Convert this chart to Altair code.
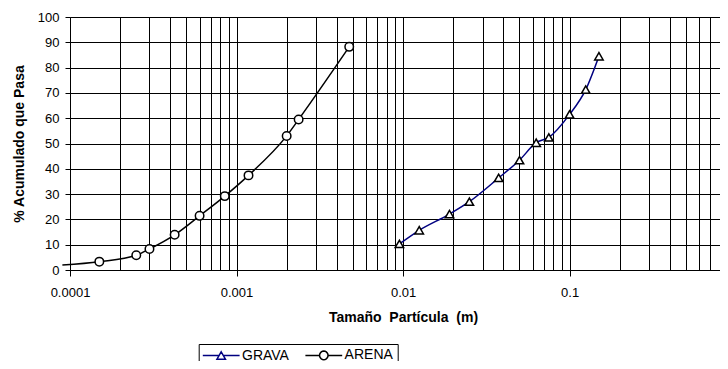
import math
import altair as alt
import pandas as pd

# ---- data ----
grava_size = [0.0095, 0.0125, 0.019, 0.025, 0.0375, 0.05, 0.063, 0.075, 0.1, 0.125, 0.15]
grava_pct = [10.3, 15.7, 22.1, 27.0, 36.4, 43.4, 50.3, 52.4, 61.5, 71.3, 84.5]

arena_size = [0.00009, 0.00015, 0.00025, 0.0003, 0.000425, 0.0006, 0.00085, 0.00118, 0.002, 0.00236, 0.00475]
arena_pct = [2.0, 3.3, 5.8, 8.3, 13.9, 21.4, 29.2, 37.4, 53.0, 59.5, 88.2]
arena_marker = [False, True, True, True, True, True, True, True, True, True, True]

series_names = ["GRAVA", "ARENA"]
series_colors = ["#000080", "#000000"]

x_grid_values = [round(m * 10.0 ** e, 10) for e in range(-4, 0) for m in range(1, 10)]
x_grid_values = [v for v in x_grid_values if v <= 0.8]
y_tick_values = list(range(0, 101, 10))

x_title = "Tamaño\u00a0 Partícula\u00a0 (m)"
y_title = "% Acumulado que Pasa"

rows = []
for s, p in zip(grava_size, grava_pct):
    rows.append({"size": s, "pct": p, "serie": "GRAVA", "marker": True})
for s, p, m in zip(arena_size, arena_pct, arena_marker):
    rows.append({"size": s, "pct": p, "serie": "ARENA", "marker": m})
df = pd.DataFrame(rows)

FONT = "Liberation Sans"
decade_test = "abs(log(datum.value)/LN10 - round(log(datum.value)/LN10)) < 0.001"

# legend symbols: line stub with a marker in the middle (unit coordinates)
tri_sym = "M-3.68,0L-0.43,0M0.43,0L3.68,0M0,-0.74L0.85,0.74L-0.85,0.74Z"
circ_pts = [(0.85 * math.cos(2 * math.pi * k / 20), 0.85 * math.sin(2 * math.pi * k / 20)) for k in range(20)]
circ_sym = ("M-3.68,0L-0.85,0M0.85,0L3.68,0M"
            + "L".join(f"{x:.3f},{y:.3f}" for x, y in circ_pts) + "Z")
legend_shapes = [tri_sym, circ_sym]

x_enc = alt.X(
    "size:Q",
    scale=alt.Scale(type="log", domain=[0.0001, 0.8]),
    axis=alt.Axis(
        values=x_grid_values,
        grid=True, gridColor="black", gridWidth=1,
        domainColor="black", domainWidth=1,
        tickColor="black", tickSize=6, tickWidth=1,
        tickOpacity={"condition": {"test": decade_test, "value": 1}, "value": 0},
        format="~g",
        labelExpr=f"({decade_test}) ? datum.label : ''",
        labelFont=FONT, labelFontSize=13, labelColor="black",
        labelPadding=10, labelOverlap=False, labelFlush=False,
        title=x_title, titleFont=FONT, titleFontSize=14, titleFontWeight="bold",
        titleColor="black", titleX=333, titleY=47, titleAlign="center",
        titleBaseline="middle",
    ),
)
y_enc = alt.Y(
    "pct:Q",
    scale=alt.Scale(domain=[0, 100]),
    axis=alt.Axis(
        values=y_tick_values,
        grid=True, gridColor="black", gridWidth=1,
        domainColor="black", domainWidth=1,
        tickColor="black", tickSize=5, tickWidth=1,
        labelFont=FONT, labelFontSize=13, labelColor="black", labelPadding=6,
        labelOverlap=False,
        title=y_title, titleFont=FONT, titleFontSize=14, titleFontWeight="bold",
        titleColor="black", titleX=-51, titleY=126.5, titleAngle=270,
        titleAlign="center", titleBaseline="middle",
    ),
)

# legend geometry (one merged legend for colour + shape)
LEG_X = 128.7
LEG_Y = 327
B = 15.5
SYM_C = 19.25
LAB_X = 40.8
leg_props = dict(
    orient="none", legendX=LEG_X, legendY=LEG_Y, direction="horizontal", title=None,
    symbolSize=100, symbolStrokeWidth=1.5,
    symbolOffset=SYM_C - 0.5 * B, labelOffset=LAB_X - B - (SYM_C - 0.5 * B),
    columnPadding=12.6, padding=4,
    labelFont=FONT, labelFontSize=14, labelColor="black",
    strokeColor="black",
)

base = alt.Chart(df)

lines = base.mark_line(strokeWidth=1.5, interpolate="monotone", clip=False).encode(
    x=x_enc,
    y=y_enc,
    color=alt.Color(
        "serie:N",
        scale=alt.Scale(domain=series_names, range=series_colors),
        legend=alt.Legend(**leg_props),
    ),
)

grava_pts = base.transform_filter("datum.serie == 'GRAVA'").mark_point(
    shape="triangle-up", filled=True, fill="white", stroke="black",
    strokeWidth=1.5, size=72, opacity=1
).encode(x=x_enc, y=y_enc)

arena_pts = base.transform_filter("datum.serie == 'ARENA' && datum.marker").mark_point(
    shape="circle", filled=True, fill="white", stroke="black",
    strokeWidth=1.5, size=72, opacity=1
).encode(x=x_enc, y=y_enc)

legend_layer = base.transform_filter("false").mark_point(
    filled=True, fill="white", stroke="black", strokeWidth=1.5, size=100, opacity=1
).encode(
    x=x_enc,
    y=y_enc,
    shape=alt.Shape(
        "serie:N",
        scale=alt.Scale(domain=series_names, range=legend_shapes),
        legend=alt.Legend(**leg_props),
    ),
)

chart = alt.layer(lines, grava_pts, arena_pts, legend_layer).properties(
    width=650,
    height=253,
    autosize=alt.AutoSizeParams(type="none"),
    padding={"left": 62, "top": 9, "right": 0, "bottom": 91},
    background="white",
).configure_view(stroke=None)

chart.save("out.html", embed_options={"renderer": "svg", "actions": False})
